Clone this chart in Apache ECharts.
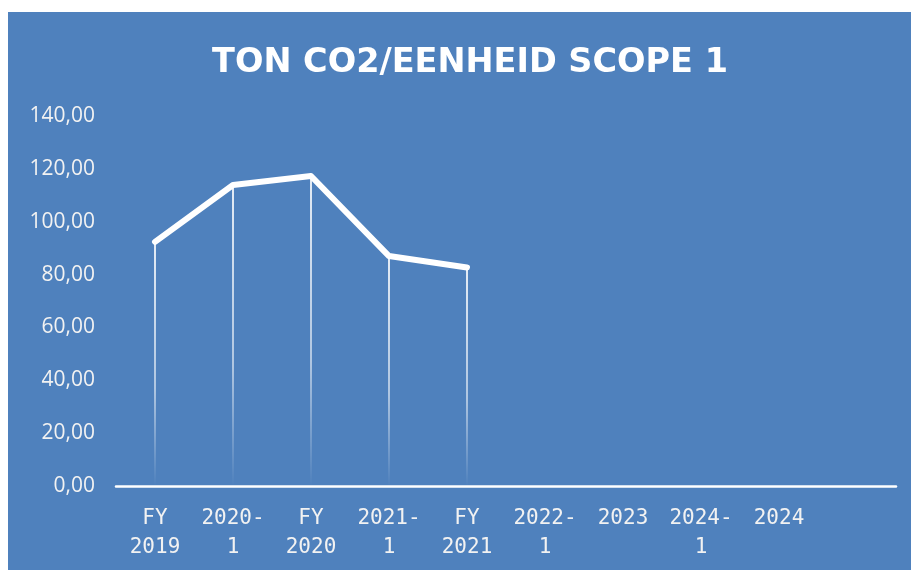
<!DOCTYPE html>
<html>
<head>
<meta charset="utf-8">
<script src="https://cdn.jsdelivr.net/npm/echarts@6/dist/echarts.min.js"></script>
<style>
html,body{margin:0;padding:0;background:#ffffff;}
#chart{width:911px;height:570px;}
</style>
</head>
<body>
<div id="chart"></div>
<script>
var titleText = 'TON CO2/EENHEID SCOPE 1';
var categories = ['FY\n2019', '2020-\n1', 'FY\n2020', '2021-\n1', 'FY\n2021', '2022-\n1', '2023', '2024-\n1', '2024', ''];
var values = [92.4, 113.9, 117.3, 87.0, 82.7, null, null, null, null, null];
var yTicks = { min: 0, max: 140, interval: 20 };

var chart = echarts.init(document.getElementById('chart'), null, { renderer: 'canvas' });
var blue = '#4F81BD';
chart.setOption({
  backgroundColor: '#ffffff',
  animation: false,
  graphic: [{
    type: 'rect', z: -10, silent: true,
    shape: { x: 8, y: 12, width: 903, height: 558 },
    style: { fill: blue }
  }],
  title: {
    text: titleText,
    left: 465, top: 41, textAlign: 'center',
    textStyle: { color: '#ffffff', fontFamily: 'DejaVu Sans', fontWeight: 'bold', fontSize: 33.5 }
  },
  grid: { left: 116, right: 15, top: 116, bottom: 84, containLabel: false },
  xAxis: {
    type: 'category',
    data: categories,
    boundaryGap: true,
    axisLine: { show: true, lineStyle: { color: '#ffffff', width: 2.5 } },
    axisTick: { show: false },
    axisLabel: {
      interval: 0, margin: 18, color: '#f2f2f2',
      fontFamily: 'DejaVu Sans Mono', fontSize: 21, lineHeight: 29
    },
    splitLine: { show: false }
  },
  yAxis: {
    type: 'value',
    min: yTicks.min, max: yTicks.max, interval: yTicks.interval,
    axisLine: { show: false },
    axisTick: { show: false },
    splitLine: { show: false },
    axisLabel: {
      margin: 21, color: '#f2f2f2', fontFamily: 'Open Sans', fontSize: 21,
      formatter: function (v) { return v.toFixed(2).replace('.', ','); }
    }
  },
  series: [
    {
      type: 'bar',
      data: values,
      barWidth: 2,
      silent: true,
      itemStyle: {
        color: new echarts.graphic.LinearGradient(0, 0, 0, 1, [
          { offset: 0, color: 'rgba(255,255,255,0.85)' },
          { offset: 0.6, color: 'rgba(255,255,255,0.55)' },
          { offset: 1, color: 'rgba(255,255,255,0)' }
        ])
      },
      z: 1
    },
    {
      type: 'line',
      data: values,
      showSymbol: false,
      symbol: 'none',
      connectNulls: false,
      lineStyle: { color: '#ffffff', width: 6, cap: 'round', join: 'round' },
      z: 3
    }
  ]
});
</script>
</body>
</html>
